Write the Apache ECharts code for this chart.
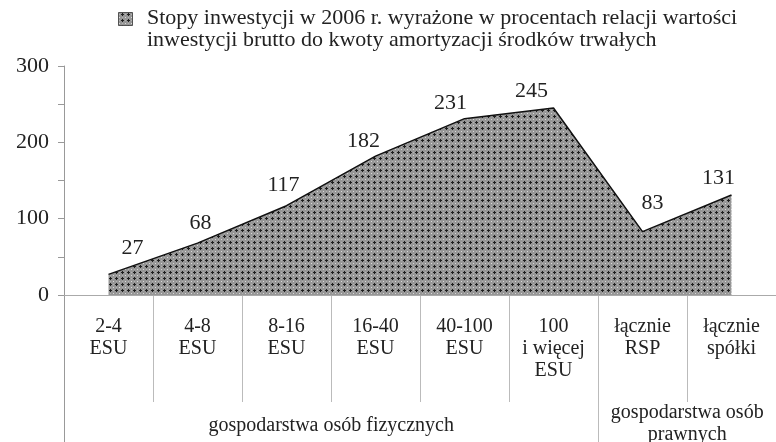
<!DOCTYPE html>
<html style="height: 100%">
<head>
<meta charset="utf-8">
</head>
<body style="height: 100%; margin: 0; background: #fff">
<div id="container" style="width: 776px; height: 442px"></div>
<script type="text/javascript" src="https://cdn.jsdelivr.net/npm/echarts@6/dist/echarts.min.js"></script>
<script type="text/javascript">

var categories = ['2-4\nESU', '4-8\nESU', '8-16\nESU', '16-40\nESU', '40-100\nESU', '100\ni więcej\nESU', 'łącznie\nRSP', 'łącznie\nspółki'];
var values = [27, 68, 117, 182, 231, 245, 83, 131];
var seriesName = 'Stopy inwestycji w 2006 r. wyrażone w procentach relacji wartości\ninwestycji brutto do kwoty amortyzacji środków trwałych';
var groupNames = ['gospodarstwa osób fizycznych', 'gospodarstwa osób\nprawnych'];
var groupFirst = [0, 6];
var groupLast = [5, 7];
// nudge of each value label, as placed in the original
var labelDx = [24, 3, -3, -12, -14, -22, 10, -13];
var labelDy = [-6, 0, 0, 5, 5, 3, -8, 3];

var font = "'Liberation Serif', 'DejaVu Serif', serif";

// crosshatch fill like the printed chart
var pat = document.createElement('canvas');
pat.width = 6; pat.height = 6;
var pc = pat.getContext('2d');
pc.fillStyle = '#969696'; pc.fillRect(0, 0, 6, 6);
pc.fillStyle = '#1e1e1e';
pc.fillRect(1, 2, 3, 1);
pc.fillRect(2, 1, 1, 3);
pc.fillStyle = '#d8d8d8';
pc.fillRect(5, 5, 1, 1);
pc.fillStyle = '#b4b4b4';
pc.fillRect(5, 2, 1, 1); pc.fillRect(2, 5, 1, 1);
var fill = { image: pat, repeat: 'repeat' };

var dom = document.getElementById('container');
var myChart = echarts.init(dom);

var option = {
    animation: false,
    grid: { left: 64, right: -3, top: 66, bottom: 147 },
    xAxis: {
        type: 'category',
        data: categories,
        axisLine: { lineStyle: { color: '#aaa', width: 1 } },
        axisTick: { alignWithLabel: true, length: 4, lineStyle: { color: '#aaa' } },
        axisLabel: { interval: 0, margin: 21, fontFamily: font, fontSize: 20, color: '#222', lineHeight: 22 }
    },
    yAxis: {
        type: 'value',
        min: 0,
        max: 300,
        interval: 100,
        axisLine: { show: true, lineStyle: { color: '#999' } },
        axisTick: { show: true, length: 6, lineStyle: { color: '#999' } },
        minorTick: { show: true, splitNumber: 2, length: 6, lineStyle: { color: '#999' } },
        splitLine: { show: false },
        axisLabel: { margin: 15, fontFamily: font, fontSize: 22, color: '#222' }
    },
    series: [{
        name: seriesName,
        type: 'line',
        data: values.map(function (v, i) {
            return { value: v, label: { offset: [labelDx[i], labelDy[i]] } };
        }),
        symbol: 'circle',
        symbolSize: 0.1,
        showSymbol: true,
        lineStyle: { color: '#111', width: 1.5 },
        itemStyle: { color: '#111' },
        areaStyle: { color: fill, opacity: 1 },
        label: { show: true, position: 'top', distance: 9, fontFamily: font, fontSize: 22, color: '#222' }
    }]
};

myChart.setOption(option);

// legend (icon on the first line of a two-line caption)
var graphics = [{
    type: 'rect',
    shape: { x: 118.5, y: 12.5, width: 14, height: 13 },
    style: { fill: fill, stroke: '#333', lineWidth: 0.8 }
}, {
    type: 'text',
    style: {
        x: 147, y: 7,
        text: seriesName,
        fontFamily: font, fontSize: 22, lineHeight: 22,
        textVerticalAlign: 'top',
        fill: '#222'
    }
}];

// category separators, group separators and group labels under the axis
var x0 = myChart.convertToPixel({ xAxisIndex: 0 }, 0);
var step = myChart.convertToPixel({ xAxisIndex: 0 }, 1) - x0;
var yZero = myChart.convertToPixel({ yAxisIndex: 0 }, 0);
categories.forEach(function (c, i) {
    if (i === 0) return;
    var bx = Math.round(x0 + (i - 0.5) * step) + 0.5;
    graphics.push({
        type: 'line',
        shape: { x1: bx, y1: yZero, x2: bx, y2: yZero + 107 },
        style: { stroke: '#bbb', lineWidth: 1 }
    });
});
groupFirst.forEach(function (f, i) {
    var left = Math.round(x0 + (f - 0.5) * step) + 0.5;
    var right = x0 + (groupLast[i] + 0.5) * step;
    graphics.push({
        type: 'line',
        shape: { x1: left, y1: yZero, x2: left, y2: 442 },
        style: { stroke: i === 0 ? '#999' : '#bbb', lineWidth: 1 }
    });
    var twoLines = groupNames[i].indexOf('\n') >= 0;
    graphics.push({
        type: 'text',
        style: {
            x: (left + right) / 2,
            y: yZero + (twoLines ? 107 : 120),
            text: groupNames[i],
            textAlign: 'center',
            fontFamily: font,
            fontSize: 20,
            lineHeight: 22,
            fill: '#222'
        }
    });
});
myChart.setOption({ graphic: graphics });

</script>
</body>
</html>
